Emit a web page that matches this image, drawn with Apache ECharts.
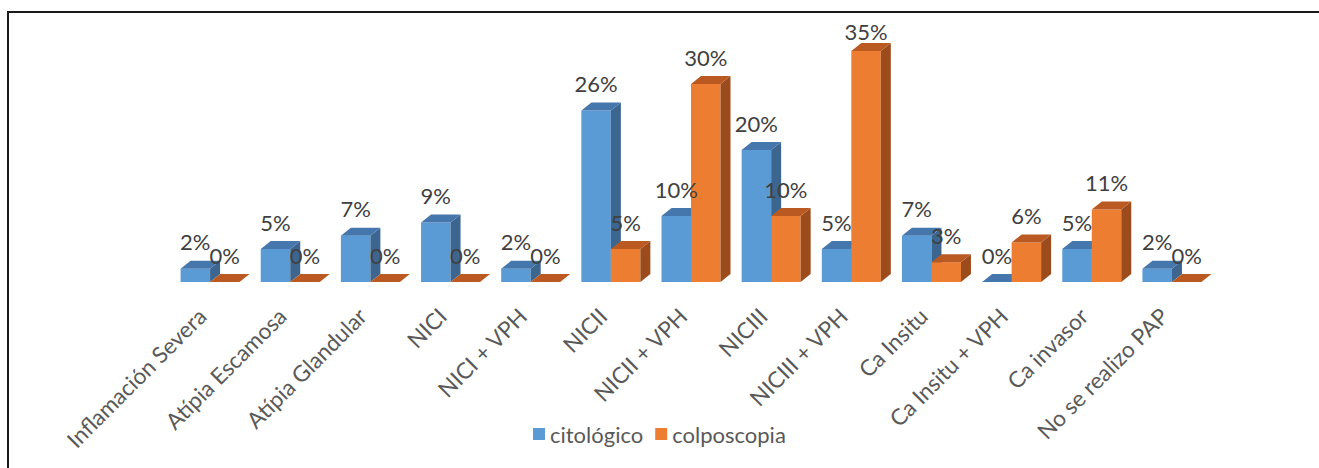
<!DOCTYPE html>
<html>
<head>
<meta charset="utf-8">
<script src="https://cdn.jsdelivr.net/npm/echarts@6/dist/echarts.min.js"></script>
<style>
  html, body { margin: 0; padding: 0; background: #ffffff; }
  #chart { width: 1319px; height: 468px; }
</style>
</head>
<body>
<div id="chart"></div>
<script>
// Categories and percentages per diagnostic method
const categories = [
  'Inflamación Severa', 'Atípia Escamosa', 'Atípia Glandular', 'NICI', 'NICI + VPH',
  'NICII', 'NICII + VPH', 'NICIII', 'NICIII + VPH', 'Ca Insitu', 'Ca Insitu + VPH',
  'Ca invasor', 'No se realizo PAP'
];
const citologico  = [2, 5, 7, 9, 2, 26, 10, 20, 5, 7, 0, 5, 2];
const colposcopia = [0, 0, 0, 0, 0, 5, 30, 10, 35, 3, 6, 11, 0];

const FONT = 'Lato, "Open Sans", sans-serif';

// Box geometry for the pseudo-3D columns
const BAR_W = 29.5;   // front face width
const DEPTH_X = 10;   // depth offset to the right
const DEPTH_Y = 8;    // depth offset upwards
const SHIFT = 8;      // column pair sits slightly right of the tick
const LABEL_MIN_Y = 31; // keep value labels inside the chart area

const palette = {
  blue:   { front: '#5B9BD5', top: '#4677AC', side: '#3C6690' },
  orange: { front: '#ED7D31', top: '#BA5A22', side: '#9C4C1C' }
};

function makeRender(side, colors) {
  return function (params, api) {
    const idx = api.value(0);
    const val = api.value(1);
    const base = api.coord([idx, 0]);
    const top = api.coord([idx, val]);
    const cx = base[0] + SHIFT;
    const x0 = side < 0 ? cx - BAR_W : cx;
    const x1 = side < 0 ? cx : cx + BAR_W;
    const yT = top[1];
    const yB = base[1];
    const children = [
      {
        type: 'rect',
        shape: { x: x0, y: yT, width: x1 - x0, height: yB - yT },
        style: { fill: colors.front }
      },
      {
        type: 'polygon',
        shape: { points: [[x1, yT], [x1 + DEPTH_X, yT - DEPTH_Y], [x1 + DEPTH_X, yB - DEPTH_Y], [x1, yB]] },
        style: { fill: colors.side }
      },
      {
        type: 'polygon',
        shape: { points: [[x0, yT], [x1, yT], [x1 + DEPTH_X, yT - DEPTH_Y], [x0 + DEPTH_X, yT - DEPTH_Y]] },
        style: { fill: colors.top }
      },
      {
        type: 'text',
        z2: 10,
        style: {
          x: (x0 + x1) / 2,
          y: Math.max(yT - 27, LABEL_MIN_Y),
          text: val + '%',
          align: 'center',
          verticalAlign: 'middle',
          fill: '#404040',
          font: '22px ' + FONT
        }
      }
    ];
    return { type: 'group', children: children };
  };
}

const chart = echarts.init(document.getElementById('chart'), null, { renderer: 'svg' });

chart.setOption({
  backgroundColor: '#ffffff',
  animation: false,
  grid: { left: 162, width: 1042, top: 18, bottom: 186 },
  xAxis: {
    type: 'category',
    data: categories,
    axisLine: { show: false },
    axisTick: { show: false },
    axisLabel: {
      interval: 0,
      rotate: 45,
      margin: 30,
      color: '#595959',
      fontFamily: FONT,
      fontSize: 22.5
    }
  },
  yAxis: {
    type: 'value',
    min: 0,
    max: 40,
    show: false,
    splitLine: { show: false }
  },
  legend: {
    left: 528,
    top: 418,
    icon: 'rect',
    itemWidth: 12,
    itemHeight: 12,
    itemGap: 12,
    textStyle: { color: '#595959', fontFamily: FONT, fontSize: 22 },
    data: ['citológico', 'colposcopia']
  },
  graphic: [
    {
      type: 'polyline',
      shape: { points: [[8, 468], [8, 12], [1319, 12]] },
      style: { stroke: '#1a1a1a', lineWidth: 2, fill: null }
    }
  ],
  series: [
    {
      name: 'citológico',
      type: 'custom',
      itemStyle: { color: palette.blue.front },
      renderItem: makeRender(-1, palette.blue),
      data: citologico.map((v, i) => [i, v])
    },
    {
      name: 'colposcopia',
      type: 'custom',
      itemStyle: { color: palette.orange.front },
      renderItem: makeRender(1, palette.orange),
      data: colposcopia.map((v, i) => [i, v])
    }
  ]
});
</script>
</body>
</html>
